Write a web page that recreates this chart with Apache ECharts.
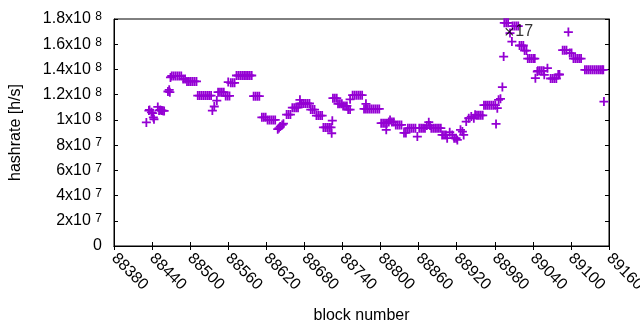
<!DOCTYPE html>
<html>
<head>
<meta charset="utf-8">
<script src="https://cdn.jsdelivr.net/npm/echarts@6/dist/echarts.min.js"></script>
<style>
  html, body { margin: 0; padding: 0; background: #fff; }
  #main { width: 640px; height: 330px; }
</style>
</head>
<body>
<div id="main"></div>
<script>
// block numbers and the hashrate read for each (MH/s)
const blockNumber = [
  88431, 88435, 88436, 88439, 88441, 88442, 88443, 88449, 88451, 88453, 88455, 88457, 88459,
  88465, 88467, 88468, 88469, 88471, 88474, 88477, 88480, 88483, 88486,
  88489, 88492, 88495, 88498, 88501, 88504, 88507, 88510,
  88512, 88515, 88518, 88521, 88524, 88527, 88530, 88533, 88535, 88538, 88542,
  88544, 88547, 88550, 88553, 88556, 88559, 88560, 88562, 88564, 88567, 88570,
  88573, 88576, 88579, 88582, 88585, 88588, 88591, 88594, 88597,
  88600, 88603, 88606, 88609, 88613, 88616, 88619, 88622, 88625, 88628, 88631, 88634,
  88638, 88640, 88642, 88645, 88647, 88652, 88655, 88658, 88661, 88664, 88667, 88670,
  88673, 88673, 88676, 88679, 88682, 88685, 88688, 88690, 88693, 88696,
  88699, 88702, 88705, 88708, 88710, 88713, 88716, 88719, 88722, 88723, 88724,
  88725, 88728, 88731, 88733, 88736, 88739, 88741, 88744, 88747, 88749, 88752, 88752,
  88756, 88759, 88762, 88765, 88768, 88771,
  88774, 88777, 88777, 88780, 88783, 88786, 88789, 88792, 88795, 88798,
  88801, 88804, 88807, 88809, 88810, 88813, 88815, 88818, 88821, 88824, 88827, 88830, 88833,
  88837, 88840, 88843, 88846, 88849, 88852, 88855, 88858, 88861, 88864, 88867, 88870,
  88873, 88876, 88878, 88880, 88883, 88886, 88889, 88892, 88895, 88897, 88900, 88903,
  88905, 88909, 88913, 88916, 88919, 88921, 88926, 88929, 88931,
  88935, 88939, 88943, 88947, 88949, 88952, 88955, 88958, 88961,
  88963, 88966, 88969, 88972, 88975, 88978, 88981, 88982, 88984, 88986, 88989, 88992,
  88994, 88995, 88998, 89001, 89004, 89007, 89008, 89011, 89014, 89017,
  89019, 89022, 89025, 89027, 89030, 89032, 89035, 89038, 89041, 89043,
  89044, 89047, 89048, 89051, 89054, 89057, 89058, 89063,
  89068, 89071, 89074, 89077, 89080, 89082, 89087, 89090, 89093, 89096,
  89098, 89101, 89104, 89107, 89110, 89113, 89116,
  89122, 89125, 89128, 89131, 89134, 89137, 89140, 89143, 89146, 89149, 89151, 89152
];
const hashrateMH = [
  98, 107.4, 107.9, 106, 105.3, 102, 100.5, 110.3, 107.5, 107.9, 107.5, 107.3, 107.1,
  122.5, 123.8, 122, 133.7, 134.8, 134.8, 134.8, 134.8, 134.8, 134.8,
  132.5, 132.5, 130.5, 130.5, 130.5, 130.5, 130.5, 130.5,
  119.3, 119.3, 119.3, 119.3, 119.3, 119.3, 119.3, 119.3, 107.4, 110.6, 115.3,
  122, 122, 122, 122, 119, 119, 130, 119, 129.4, 129.4, 129.4,
  135.2, 135.2, 135.2, 135.2, 135.2, 135.2, 135.2, 135.2, 135.2,
  118.8, 118.8, 118.8, 118.8, 102, 102, 102, 100, 100, 100, 100, 100,
  92.6, 93.5, 94.7, 96, 97, 104.2, 104.2, 104.2, 109.7, 109.7, 109.7, 109.7,
  115.9, 113, 113, 113, 113, 113, 113, 108.2, 108.2, 108.2,
  103.4, 103.4, 103.4, 103.4, 94, 94, 94, 94, 94, 89.4, 99.4,
  117.2, 117.2, 117.2, 112.7, 112.7, 112.7, 111.1, 111.1, 111.1, 108.2, 108.2, 116.3,
  119.6, 119.6, 119.6, 119.6, 119.6, 119.6,
  108.7, 112.7, 108.7, 108.7, 108.7, 108.7, 108.7, 108.7, 108.7, 108.7,
  97.4, 97.4, 97.4, 92.1, 97.4, 98.4, 100, 98.4, 98.4, 96, 96, 96, 96,
  89.7, 89.7, 93.4, 93.4, 93.4, 93.4, 93.4, 86.8, 93.4, 93.4, 93.4, 93.4,
  95.5, 98.2, 95.5, 93.4, 93.4, 93.4, 93.4, 93.4, 93.4, 88.1, 88.1, 88.1,
  85.5, 90.2, 88.1, 85.5, 85.5, 84.1, 92.1, 90.7, 88.1,
  98.7, 101.3, 102.6, 101.3, 104, 103.6, 103.6, 103.6, 103.6,
  111.7, 111.7, 111.7, 111.7, 111.7, 111.7, 111.7, 96.8, 109.3, 115.9, 116.7, 126,
  150.2, 177, 177, 177, 168.8, 162.1, 174.4, 174.4, 174.4, 174.4,
  159, 159, 159, 155, 155, 148.6, 148.6, 148.6, 148.6, 148.6,
  133.1, 138.3, 138.9, 138.9, 138.9, 138.9, 135.7, 141,
  132.8, 132.8, 132.8, 132.8, 136, 136, 155.3, 155.3, 155.3, 169.6,
  153, 153, 148.6, 148.6, 148.6, 148.6, 148.6,
  139.7, 139.7, 139.7, 139.7, 139.7, 139.7, 139.7, 139.7, 139.7, 139.7, 139.7, 114.5
];

// the labelled point
const markBlock = [89003];
const markHashrateMH = [169.8];
const markText = ['17'];

const yTickLabels = ['0', '2x10^7', '4x10^7', '6x10^7', '8x10^7', '1x10^8', '1.2x10^8', '1.4x10^8', '1.6x10^8', '1.8x10^8'];

const FONT = 'Liberation Sans';
const plusPath = 'path://M0,3.6H3.6V0H5.4V3.6H9V5.4H5.4V9H3.6V5.4H0Z';
const crossPath = 'path://M0,1L1,0L5,4L9,0L10,1L6,5L10,9L9,10L5,6L1,10L0,9L4,5Z';

let points = blockNumber.map((b, i) => [b, hashrateMH[i] * 1e6]);
let markPoints = markBlock.map((b, i) => ({ value: [b, markHashrateMH[i] * 1e6], text: markText[i] }));

function yLabel(val) {
  let t = yTickLabels[Math.round(val / 2e7)];
  if (t == null) return '';
  if (t.indexOf('^') < 0) return '{m|' + t + '}';
  let parts = t.split('^');
  return '{m|' + parts[0] + ' }{e|' + parts[1] + '}';
}

let chart = echarts.init(document.getElementById('main'), null, { renderer: 'canvas' });
chart.setOption({
  animation: false,
  backgroundColor: '#fff',
  grid: {
    left: 114, right: 31, top: 19, bottom: 84,
    containLabel: false, outerBoundsMode: 'none',
    show: true, borderColor: '#000', borderWidth: 1
  },
  xAxis: [{
    type: 'value', min: 88380, max: 89160, interval: 60,
    name: 'block number', nameLocation: 'middle', nameGap: 62,
    nameTextStyle: { fontFamily: FONT, fontSize: 16, color: '#000' },
    axisLine: { show: true, lineStyle: { color: '#000', width: 1 } },
    axisTick: { show: true, inside: true, length: 4, lineStyle: { color: '#000' } },
    axisLabel: { rotate: -45, margin: 10, fontFamily: FONT, fontSize: 16, color: '#000', formatter: v => String(v), hideOverlap: false },
    splitLine: { show: false }
  }, {
    type: 'value', position: 'top', min: 88380, max: 89160, interval: 60,
    axisLine: { show: true, lineStyle: { color: '#000' } },
    axisTick: { show: true, inside: true, length: 4, lineStyle: { color: '#000' } },
    axisLabel: { show: false }, splitLine: { show: false }
  }],
  yAxis: [{
    type: 'value', min: 0, max: 1.8e8, interval: 2e7,
    name: 'hashrate [h/s]', nameLocation: 'middle', nameGap: 90,
    nameTextStyle: { fontFamily: FONT, fontSize: 16, color: '#000' },
    axisLine: { show: true, lineStyle: { color: '#000', width: 1 } },
    axisTick: { show: true, inside: true, length: 4, lineStyle: { color: '#000' } },
    axisLabel: {
      margin: 12, formatter: yLabel,
      rich: {
        m: { fontFamily: FONT, fontSize: 16, color: '#000', lineHeight: 16 },
        e: { fontFamily: FONT, fontSize: 12, color: '#000', verticalAlign: 'top', lineHeight: 16 }
      }
    },
    splitLine: { show: false }
  }, {
    type: 'value', position: 'right', min: 0, max: 1.8e8, interval: 2e7,
    axisLine: { show: true, lineStyle: { color: '#000' } },
    axisTick: { show: true, inside: true, length: 4, lineStyle: { color: '#000' } },
    axisLabel: { show: false }, splitLine: { show: false }
  }],
  series: [{
    type: 'scatter',
    data: points,
    symbol: plusPath,
    symbolSize: 9,
    itemStyle: { color: '#9400d3', opacity: 1 },
    clip: true,
    z: 3
  }, {
    type: 'scatter',
    data: markPoints,
    symbol: crossPath,
    symbolSize: 8,
    itemStyle: { color: '#000' },
    label: {
      show: true, position: 'right', distance: 2,
      formatter: p => p.data.text,
      fontFamily: FONT, fontSize: 16, color: '#000'
    },
    z: 4
  }]
});
</script>
</body>
</html>
